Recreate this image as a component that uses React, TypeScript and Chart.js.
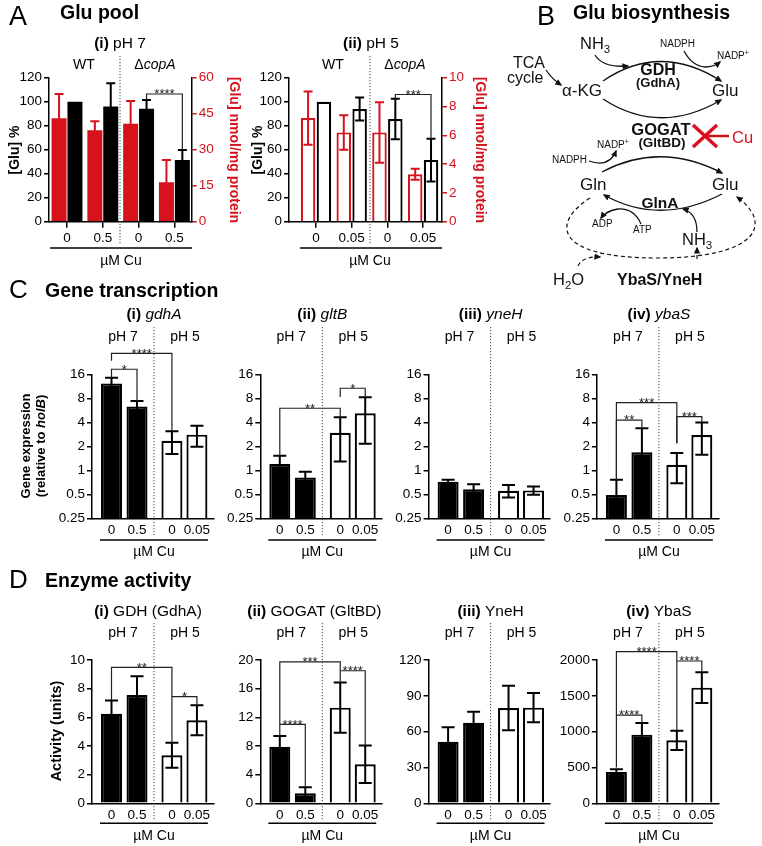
import React, { useEffect, useRef } from 'react';
import { Chart, registerables } from 'chart.js';

Chart.register(...registerables);

const FONT = '"Liberation Sans", Arial, Helvetica, sans-serif';
const RED = '#d6121c';
const W = 762;
const H = 846;
const AXIS_W = 40; // room kept for y tick labels
const AXIS_H = 28; // room kept for x tick labels
Chart.defaults.font.family = FONT;
Chart.defaults.color = '#000';

// ================= DATA =================
// Panel A – Glu pool
const cuDosesPh7 = ['0', '0.5', '0', '0.5'];
const cuDosesPh5 = ['0', '0.05', '0', '0.05'];
const pctTicks = [0, 20, 40, 60, 80, 100, 120];
const nmolTicksPh7 = [0, 15, 30, 45, 60];
const nmolTicksPh5 = [0, 2, 4, 6, 8, 10];

const gluPctPh7 = [100, 96.1, 94.2, 51.4];
const gluPctErrPh7 = [0, 19.2, 7.2, 8.3];
const gluNmolPh7 = [43.1, 38.1, 40.8, 16.4];
const gluNmolErrPh7 = [10.1, 3.8, 9.5, 9.3];

const gluPctPh5 = [100, 93.9, 85.6, 51.4];
const gluPctErrPh5 = [0, 9.5, 16.9, 17.8];
const gluNmolPh5 = [7.2, 6.2, 6.2, 3.3];
const gluNmolErrPh5 = [1.85, 1.2, 2.1, 0.38];

const gluPh7Sig = [{ from: 2, to: 3, label: '****', y: 106.4, yFrom: 101.4, yTo: 59.7 }];
const gluPh5Sig = [{ from: 2, to: 3, label: '***', y: 106, yFrom: 102, yTo: 69.2 }];

// Panel C – gene transcription (relative to holB)
const cdCuLabels = ['0', '0.5', '0', '0.05'];
const exprTicks = [0.25, 0.5, 1, 2, 4, 8, 16];
const gdhAExpr = [12.3, 6.3, 2.35, 2.8];
const gdhAExprErr = [2.2, 1.1, 0.75, 0.82];
const gltBExpr = [1.2, 0.81, 2.96, 5.2];
const gltBExprErr = [0.32, 0.15, 1.67, 3.05];
const yneHExpr = [0.72, 0.58, 0.555, 0.56];
const yneHExprErr = [0.04, 0.09, 0.1, 0.065];
const ybaSExpr = [0.49, 1.68, 1.17, 2.77];
const ybaSExprErr = [0.27, 1.68, 0.48, 1.2];

const gdhAExprSig = [
  { from: 0, to: 1, label: '*', y: 18.5, yFrom: 14.5, yTo: 7.4 },
  { from: 0, to: 2, label: '****', y: 29.3, yFrom: 23.7, yTo: 3.1 },
];
const gltBExprSig = [
  { from: 0, to: 2, label: '**', y: 6.0, yFrom: 1.52, yTo: 4.62 },
  { from: 2, to: 3, label: '*', y: 10.7, yFrom: 8.3, yTo: 8.25 },
];
const ybaSExprSig = [
  { from: 0, to: 2, label: '***', y: 7.05, yFrom: 0.76, yTo: 2.18 },
  { from: 0, to: 1, label: '**', y: 4.27, yFrom: 0.76, yTo: 3.36 },
  { from: 2, to: 3, label: '***', y: 4.7, yFrom: 2.18, yTo: 3.97 },
];

// Panel D – enzyme activity
const gdhTicks = [0, 2, 4, 6, 8, 10];
const gogatTicks = [0, 4, 8, 12, 16, 20];
const yneHTicks = [0, 30, 60, 90, 120];
const ybaSTicks = [0, 500, 1000, 1500, 2000];
const gdhActivity = [6.25, 7.55, 3.35, 5.8];
const gdhActivityErr = [0.93, 1.32, 0.87, 1.05];
const gogatActivity = [7.9, 1.4, 13.35, 5.45];
const gogatActivityErr = [1.5, 0.83, 3.5, 2.6];
const yneHActivity = [51.6, 67.5, 79.8, 80.1];
const yneHActivityErr = [12, 9.2, 18.7, 12.2];
const ybaSActivity = [437, 958, 879, 1614];
const ybaSActivityErr = [37, 163, 135, 214];

const gdhActSig = [
  { from: 0, to: 2, label: '**', y: 9.49, yFrom: 7.21, yTo: 7.44 },
  { from: 2, to: 3, label: '*', y: 7.44, yFrom: 4.22, yTo: 6.85 },
];
const gogatActSig = [
  { from: 0, to: 2, label: '***', y: 19.75, yFrom: 11.02, yTo: 18.5 },
  { from: 0, to: 1, label: '****', y: 11.02, yFrom: 9.4, yTo: 2.23 },
  { from: 2, to: 3, label: '****', y: 18.5, yFrom: 16.85, yTo: 8.05 },
];
const ybaSActSig = [
  { from: 0, to: 2, label: '****', y: 2116, yFrom: 1232, yTo: 1986 },
  { from: 0, to: 1, label: '****', y: 1232, yFrom: 500, yTo: 1121 },
  { from: 2, to: 3, label: '****', y: 1986, yFrom: 1014, yTo: 1828 },
];

// ================= LAYOUT =================
const PAIR_SLOTS = [0, 1, 2, 3];
const A_OFF = 0.222;
const CD_SLOTS = [0, 1, 2.37, 3.35];
const CD_UNIT = 25.5;
const CD_COLX = [111.5, 279.8, 448.1, 616.4];
const CD_XMIN = -0.765;
const CD_XMAX = 4.0;
const CD_DIV = 1.667;
const ROW_C = { top: 374.3, bottom: 518.3, title: 315, ph: 337, divTop: 327, divBot: 537, line: 540, unit: 552 };
const ROW_D = { top: 660, bottom: 803.3, title: 611.7, ph: 633.3, divTop: 623, divBot: 821, line: 823.3, unit: 836 };

type Part = { t: string; s?: string; size?: number };
interface Bracket { from: number; to: number; label: string; y: number; yFrom: number; yTo: number }
interface SeriesSpec {
  xs: number[]; values: number[]; errors: number[]; fill: string | string[]; stroke: string;
  borderWidth: number; thickness: number; axis: string; errColor: string;
}
interface AxisSpec { type: 'linear' | 'logarithmic'; min: number; max: number; ticks: number[]; color: string }
interface Spec {
  plot: { left: number; right: number; top: number; bottom: number };
  xMin: number; xMax: number; xTicks: number[]; xLabels: string[]; xTickMarks: boolean; xLabelPad: number;
  y: AxisSpec; y2?: AxisSpec;
  series: SeriesSpec[];
  brackets: Bracket[]; bracketXs: number[]; bracketAxis: string; capW: number;
  decorate: (ctx: CanvasRenderingContext2D) => void;
}

function drawParts(
  ctx: CanvasRenderingContext2D, parts: Part[], x: number, y: number, size: number,
  align: 'left' | 'center' | 'right' = 'center', color = '#000', rot = 0,
) {
  ctx.save();
  ctx.translate(x, y);
  if (rot) ctx.rotate(rot);
  ctx.fillStyle = color;
  ctx.textBaseline = 'middle';
  ctx.textAlign = 'left';
  const fonts = parts.map((p) => `${p.s || 'normal'} ${p.size ?? size}px ${FONT}`);
  let total = 0;
  const widths = parts.map((p, i) => {
    ctx.font = fonts[i];
    const w = ctx.measureText(p.t).width;
    total += w;
    return w;
  });
  let cx = align === 'center' ? -total / 2 : align === 'right' ? -total : 0;
  parts.forEach((p, i) => {
    ctx.font = fonts[i];
    ctx.fillText(p.t, cx, 0);
    cx += widths[i];
  });
  ctx.restore();
}

function dottedV(ctx: CanvasRenderingContext2D, x: number, y1: number, y2: number) {
  ctx.save();
  ctx.strokeStyle = '#444';
  ctx.lineWidth = 1;
  ctx.setLineDash([1.2, 1.8]);
  ctx.beginPath();
  ctx.moveTo(x, y1);
  ctx.lineTo(x, y2);
  ctx.stroke();
  ctx.restore();
}

function hline(ctx: CanvasRenderingContext2D, x1: number, x2: number, y: number) {
  ctx.save();
  ctx.strokeStyle = '#000';
  ctx.lineWidth = 1.5;
  ctx.beginPath();
  ctx.moveTo(x1, y);
  ctx.lineTo(x2, y);
  ctx.stroke();
  ctx.restore();
}

function drawErrors(chart: any, spec: Spec) {
  const ctx: CanvasRenderingContext2D = chart.ctx;
  spec.series.forEach((s, di) => {
    const meta = chart.getDatasetMeta(di);
    const ys = chart.scales[s.axis];
    meta.data.forEach((el: any, i: number) => {
      const e = s.errors[i];
      if (!e) return;
      const v = s.values[i];
      const top = ys.getPixelForValue(v + e);
      const lo = v - e;
      const hasLo = lo > ys.min;
      const bot = ys.getPixelForValue(hasLo ? lo : ys.min);
      const hw = spec.capW / 2;
      ctx.save();
      ctx.strokeStyle = s.errColor;
      ctx.lineWidth = 2;
      ctx.beginPath();
      ctx.moveTo(el.x, top);
      ctx.lineTo(el.x, bot);
      ctx.moveTo(el.x - hw, top);
      ctx.lineTo(el.x + hw, top);
      if (hasLo) {
        ctx.moveTo(el.x - hw, bot);
        ctx.lineTo(el.x + hw, bot);
      }
      ctx.stroke();
      ctx.restore();
    });
  });
}

function drawBrackets(chart: any, spec: Spec) {
  const ctx: CanvasRenderingContext2D = chart.ctx;
  const xs = chart.scales.x;
  const ys = chart.scales[spec.bracketAxis];
  spec.brackets.forEach((b) => {
    const xa = xs.getPixelForValue(spec.bracketXs[b.from]);
    const xb = xs.getPixelForValue(spec.bracketXs[b.to]);
    const y = ys.getPixelForValue(b.y);
    const ya = ys.getPixelForValue(b.yFrom);
    const yb = ys.getPixelForValue(b.yTo);
    ctx.save();
    ctx.strokeStyle = '#222';
    ctx.lineWidth = 1.2;
    ctx.beginPath();
    ctx.moveTo(xa, ya);
    ctx.lineTo(xa, y);
    ctx.lineTo(xb, y);
    ctx.lineTo(xb, yb);
    ctx.stroke();
    ctx.fillStyle = '#222';
    ctx.font = `normal 13px ${FONT}`;
    ctx.textAlign = 'center';
    ctx.textBaseline = 'alphabetic';
    ctx.fillText(b.label, (xa + xb) / 2, y + 4.4);
    ctx.restore();
  });
}

function yScale(a: AxisSpec, position: 'left' | 'right') {
  return {
    type: a.type,
    position,
    min: a.min,
    max: a.max,
    bounds: 'data',
    afterFit: (s: any) => { s.width = AXIS_W; },
    afterBuildTicks: (s: any) => { s.ticks = a.ticks.map((v) => ({ value: v })); },
    ticks: {
      color: a.color, font: { size: 13.5, family: FONT }, padding: 2, autoSkip: false,
      callback: (v: any) => String(v),
    },
    grid: { display: true, drawOnChartArea: false, drawTicks: true, tickLength: 5, color: a.color, lineWidth: 1.5 },
    border: { display: true, color: '#000', width: 1.5 },
  };
}

function buildConfig(spec: Spec): any {
  const scales: any = {
    x: {
      type: 'linear', min: spec.xMin, max: spec.xMax, offset: false, bounds: 'data', z: 1,
      afterFit: (s: any) => { s.height = AXIS_H; },
      afterBuildTicks: (s: any) => { s.ticks = spec.xTicks.map((v) => ({ value: v })); },
      ticks: {
        autoSkip: false, maxRotation: 0, minRotation: 0, padding: spec.xLabelPad, color: '#000',
        font: { size: 13.5, family: FONT },
        callback: (_v: any, i: number) => spec.xLabels[i],
      },
      grid: {
        display: spec.xTickMarks, drawOnChartArea: false, drawTicks: spec.xTickMarks, tickLength: 6,
        color: '#000', lineWidth: 1.5, offset: false,
      },
      border: { display: true, color: '#000', width: 1.5 },
    },
    y: yScale(spec.y, 'left'),
  };
  if (spec.y2) scales.y2 = yScale(spec.y2, 'right');
  return {
    type: 'bar',
    data: {
      datasets: spec.series.map((s) => ({
        type: 'bar',
        data: s.values.map((v, i) => ({ x: s.xs[i], y: v })),
        backgroundColor: s.fill,
        borderColor: s.stroke,
        borderWidth: s.borderWidth,
        borderSkipped: 'start',
        barThickness: s.thickness,
        maxBarThickness: s.thickness,
        grouped: false,
        inflateAmount: 0,
        yAxisID: s.axis,
        xAxisID: 'x',
      })),
    },
    options: {
      responsive: false,
      maintainAspectRatio: false,
      animation: false,
      events: [],
      layout: {
        padding: {
          left: spec.plot.left - AXIS_W,
          top: spec.plot.top,
          right: W - spec.plot.right - (spec.y2 ? AXIS_W : 0),
          bottom: H - spec.plot.bottom - AXIS_H,
        },
      },
      plugins: { legend: { display: false }, tooltip: { enabled: false } },
      scales,
    },
    plugins: [
      {
        id: 'deco',
        afterDatasetsDraw(chart: any) { drawErrors(chart, spec); },
        afterDraw(chart: any) {
          const ctx = chart.ctx;
          ctx.save();
          drawBrackets(chart, spec);
          spec.decorate(ctx);
          ctx.restore();
        },
      },
    ],
  };
}

// ---------- Panel A specs ----------
function aSpec(opts: {
  left: number; right: number; pair0: number; unit: number; pct: number[]; pctErr: number[];
  nmol: number[]; nmolErr: number[]; nmolTicks: number[]; nmolMax: number; labels: string[];
  sig: Bracket[]; hollow: boolean; thickness: number; decorate: (ctx: CanvasRenderingContext2D) => void;
}): Spec {
  const xMin = (opts.left - opts.pair0) / opts.unit;
  const xMax = (opts.right - opts.pair0) / opts.unit;
  return {
    plot: { left: opts.left, right: opts.right, top: 77.7, bottom: 221.7 },
    xMin, xMax, xTicks: PAIR_SLOTS, xLabels: opts.labels, xTickMarks: true, xLabelPad: 2,
    y: { type: 'linear', min: 0, max: 120, ticks: pctTicks, color: '#000' },
    y2: { type: 'linear', min: 0, max: opts.nmolMax, ticks: opts.nmolTicks, color: RED },
    series: [
      {
        xs: PAIR_SLOTS.map((s) => s - A_OFF), values: opts.nmol, errors: opts.nmolErr,
        fill: opts.hollow ? '#fff' : RED, stroke: RED, borderWidth: opts.hollow ? 2.2 : 0,
        thickness: opts.thickness, axis: 'y2', errColor: RED,
      },
      {
        xs: PAIR_SLOTS.map((s) => s + A_OFF), values: opts.pct, errors: opts.pctErr,
        fill: opts.hollow ? '#fff' : '#000', stroke: '#000', borderWidth: opts.hollow ? 2.2 : 0,
        thickness: opts.thickness, axis: 'y', errColor: '#000',
      },
    ],
    brackets: opts.sig, bracketXs: PAIR_SLOTS.map((s) => s + A_OFF), bracketAxis: 'y', capW: 9,
    decorate: opts.decorate,
  };
}

const A1 = aSpec({
  left: 49, right: 191.7, pair0: 67, unit: 35.8, pct: gluPctPh7, pctErr: gluPctErrPh7,
  nmol: gluNmolPh7, nmolErr: gluNmolErrPh7, nmolTicks: nmolTicksPh7, nmolMax: 60, labels: cuDosesPh7,
  sig: gluPh7Sig, hollow: false, thickness: 15,
  decorate: (ctx) => {
    drawParts(ctx, [{ t: '(i)', s: 'bold' }, { t: ' pH 7' }], 120, 44, 15.5);
    drawParts(ctx, [{ t: 'WT' }], 84, 65, 14);
    drawParts(ctx, [{ t: 'Δ' }, { t: 'copA', s: 'italic' }], 155, 65, 14);
    dottedV(ctx, 120, 56, 245);
    hline(ctx, 50, 192, 248);
    drawParts(ctx, [{ t: 'µM Cu' }], 121, 261, 14);
    drawParts(ctx, [{ t: '[Glu] %', s: 'bold' }], 15, 150, 14, 'center', '#000', -Math.PI / 2);
    drawParts(ctx, [{ t: '[Glu] nmol/mg protein', s: 'bold' }], 234, 150, 14, 'center', RED, Math.PI / 2);
  },
});

const A2 = aSpec({
  left: 289, right: 442, pair0: 316, unit: 35.7, pct: gluPctPh5, pctErr: gluPctErrPh5,
  nmol: gluNmolPh5, nmolErr: gluNmolErrPh5, nmolTicks: nmolTicksPh5, nmolMax: 10, labels: cuDosesPh5,
  sig: gluPh5Sig, hollow: true, thickness: 14.5,
  decorate: (ctx) => {
    drawParts(ctx, [{ t: '(ii)', s: 'bold' }, { t: ' pH 5' }], 371, 44, 15.5);
    drawParts(ctx, [{ t: 'WT' }], 333, 65, 14);
    drawParts(ctx, [{ t: 'Δ' }, { t: 'copA', s: 'italic' }], 405, 65, 14);
    dottedV(ctx, 370, 56, 245);
    hline(ctx, 300, 442, 248);
    drawParts(ctx, [{ t: 'µM Cu' }], 370, 261, 14);
    drawParts(ctx, [{ t: '[Glu] %', s: 'bold' }], 258, 150, 14, 'center', '#000', -Math.PI / 2);
    drawParts(ctx, [{ t: '[Glu] nmol/mg protein', s: 'bold' }], 480, 150, 14, 'center', RED, Math.PI / 2);
  },
});

// ---------- Panels C / D specs ----------
function cdSpec(
  col: number, row: typeof ROW_C, title: Part[], titleDx: number, values: number[], errors: number[],
  yType: 'linear' | 'logarithmic', yMin: number, yMax: number, yTicks: number[], sig: Bracket[],
  yTitle?: (ctx: CanvasRenderingContext2D) => void,
): Spec {
  const x0 = CD_COLX[col];
  const px = (s: number) => x0 + s * CD_UNIT;
  return {
    plot: { left: px(CD_XMIN), right: px(CD_XMAX), top: row.top, bottom: row.bottom },
    xMin: CD_XMIN, xMax: CD_XMAX, xTicks: CD_SLOTS, xLabels: cdCuLabels, xTickMarks: false, xLabelPad: 3.5,
    y: { type: yType, min: yMin, max: yMax, ticks: yTicks, color: '#000' },
    series: [
      {
        xs: CD_SLOTS, values, errors, fill: ['#000', '#000', '#fff', '#fff'], stroke: '#000',
        borderWidth: 2.2, thickness: 21, axis: 'y', errColor: '#000',
      },
    ],
    brackets: sig, bracketXs: CD_SLOTS, bracketAxis: 'y', capW: 13,
    decorate: (ctx) => {
      const dv = px(CD_DIV);
      drawParts(ctx, title, dv + titleDx, row.title, 15.5);
      drawParts(ctx, [{ t: 'pH 7' }], dv - 31, row.ph, 14);
      drawParts(ctx, [{ t: 'pH 5' }], dv + 31, row.ph, 14);
      dottedV(ctx, dv, row.divTop, row.divBot);
      hline(ctx, px(0) - 11.5, px(CD_SLOTS[3]) + 11, row.line);
      drawParts(ctx, [{ t: 'µM Cu' }], dv, row.unit, 14);
      if (yTitle) yTitle(ctx);
    },
  };
}

const SPECS: Spec[] = [
  A1,
  A2,
  cdSpec(0, ROW_C, [{ t: '(i) ', s: 'bold' }, { t: 'gdhA', s: 'italic' }], 0, gdhAExpr, gdhAExprErr,
    'logarithmic', 0.25, 16, exprTicks, gdhAExprSig, (ctx) => {
      drawParts(ctx, [{ t: 'Gene expression', s: 'bold' }], 26, 446, 13, 'center', '#000', -Math.PI / 2);
      drawParts(ctx, [{ t: '(relative to ', s: 'bold' }, { t: 'holB', s: 'italic bold' }, { t: ')', s: 'bold' }],
        41, 446, 13, 'center', '#000', -Math.PI / 2);
    }),
  cdSpec(1, ROW_C, [{ t: '(ii) ', s: 'bold' }, { t: 'gltB', s: 'italic' }], 0, gltBExpr, gltBExprErr,
    'logarithmic', 0.25, 16, exprTicks, gltBExprSig),
  cdSpec(2, ROW_C, [{ t: '(iii) ', s: 'bold' }, { t: 'yneH', s: 'italic' }], 0, yneHExpr, yneHExprErr,
    'logarithmic', 0.25, 16, exprTicks, []),
  cdSpec(3, ROW_C, [{ t: '(iv) ', s: 'bold' }, { t: 'ybaS', s: 'italic' }], 0, ybaSExpr, ybaSExprErr,
    'logarithmic', 0.25, 16, exprTicks, ybaSExprSig),
  cdSpec(0, ROW_D, [{ t: '(i) ', s: 'bold' }, { t: 'GDH (GdhA)' }], -6, gdhActivity, gdhActivityErr,
    'linear', 0, 10, gdhTicks, gdhActSig, (ctx) => {
      drawParts(ctx, [{ t: 'Activity (units)', s: 'bold' }], 57, 731, 14.5, 'center', '#000', -Math.PI / 2);
    }),
  cdSpec(1, ROW_D, [{ t: '(ii) ', s: 'bold' }, { t: 'GOGAT (GltBD)' }], -8, gogatActivity, gogatActivityErr,
    'linear', 0, 20, gogatTicks, gogatActSig),
  cdSpec(2, ROW_D, [{ t: '(iii) ', s: 'bold' }, { t: 'YneH' }], 0, yneHActivity, yneHActivityErr,
    'linear', 0, 120, yneHTicks, []),
  cdSpec(3, ROW_D, [{ t: '(iv) ', s: 'bold' }, { t: 'YbaS' }], 0, ybaSActivity, ybaSActivityErr,
    'linear', 0, 2000, ybaSTicks, ybaSActSig),
];

function ChartCanvas({ spec }: { spec: Spec }) {
  const ref = useRef<HTMLCanvasElement>(null);
  useEffect(() => {
    const chart = new Chart(ref.current as HTMLCanvasElement, buildConfig(spec));
    return () => chart.destroy();
  }, [spec]);
  return (
    <canvas
      ref={ref}
      width={W}
      height={H}
      style={{ position: 'absolute', left: 0, top: 0, width: W, height: H }}
    />
  );
}

function Overlay() {
  const sub = (s: string) => <tspan dy={4} fontSize={11.5}>{s}</tspan>;
  return (
    <svg
      width={W}
      height={H}
      style={{ position: 'absolute', left: 0, top: 0, pointerEvents: 'none' }}
      fontFamily={FONT}
    >
      <defs>
        <marker id="ah" viewBox="0 0 10 10" refX="8" refY="5" markerWidth="7" markerHeight="7"
          markerUnits="userSpaceOnUse" orient="auto">
          <path d="M0,0.5 L10,5 L0,9.5 z" fill="#111" />
        </marker>
      </defs>
      {/* section headings */}
      <text x={9} y={25} fontSize={27}>A</text>
      <text x={60} y={19} fontSize={19.5} fontWeight="bold">Glu pool</text>
      <text x={537} y={25} fontSize={27}>B</text>
      <text x={573} y={19} fontSize={19.5} fontWeight="bold">Glu biosynthesis</text>
      <text x={9} y={298} fontSize={26}>C</text>
      <text x={45} y={297} fontSize={19.5} fontWeight="bold">Gene transcription</text>
      <text x={9} y={588} fontSize={26}>D</text>
      <text x={45} y={587} fontSize={19.5} fontWeight="bold">Enzyme activity</text>

      {/* panel B pathway */}
      <g fill="none" stroke="#111" strokeWidth={1.3}>
        <path d="M603 81 Q660 42 721 81" markerEnd="url(#ah)" />
        <path d="M603 99 Q660 136 721 100" markerEnd="url(#ah)" />
        <path d="M595 55 Q603 68 628 66" markerEnd="url(#ah)" />
        <path d="M684 51 Q692 66 705 67 Q714 67 720 62" markerEnd="url(#ah)" />
        <path d="M546 70 Q552 79 561 85" markerEnd="url(#ah)" />
        <path d="M602 172 Q660 141 722 173" markerEnd="url(#ah)" />
        <path d="M589 161 Q609 168 616 151" markerEnd="url(#ah)" />
        <path d="M722 194 Q660 226 604 195" markerEnd="url(#ah)" />
        <path d="M641 224 Q634 208 618 209 Q606 211 601 218" markerEnd="url(#ah)" />
        <path d="M697 232 Q697 213 683 209" markerEnd="url(#ah)" />
      </g>
      <g fill="none" stroke="#111" strokeWidth={1.2} strokeDasharray="4 3">
        <path d="M590 198 C552 222 552 258 657 258 C762 258 772 222 737 197" markerEnd="url(#ah)" />
        <path d="M578 266 Q583 256 600 257" markerEnd="url(#ah)" />
        <path d="M697 259 L697 248" markerEnd="url(#ah)" />
      </g>
      <g stroke={RED} strokeWidth={3.5}>
        <line x1={693} y1={125} x2={717} y2={147} />
        <line x1={693} y1={147} x2={717} y2={125} />
        <line x1={705} y1={136} x2={729} y2={136} strokeWidth={2.5} />
      </g>
      <text x={732} y={143} fontSize={16.5} fill={RED}>Cu</text>
      <g fill="#111">
        <text x={580} y={49} fontSize={16.5}>NH{sub('3')}</text>
        <text x={660} y={47} fontSize={10}>NADPH</text>
        <text x={717} y={59} fontSize={10}>NADP<tspan dy={-4} fontSize={7}>+</tspan></text>
        <text x={513} y={68} fontSize={16}>TCA</text>
        <text x={507} y={83} fontSize={16}>cycle</text>
        <text x={562} y={96} fontSize={17}>α-KG</text>
        <text x={658} y={75} fontSize={16} fontWeight="bold" textAnchor="middle">GDH</text>
        <text x={658} y={87} fontSize={13} fontWeight="bold" textAnchor="middle">(GdhA)</text>
        <text x={712} y={96} fontSize={17}>Glu</text>
        <text x={661} y={135} fontSize={16.5} fontWeight="bold" textAnchor="middle">GOGAT</text>
        <text x={662} y={147} fontSize={13.5} fontWeight="bold" textAnchor="middle">(GltBD)</text>
        <text x={597} y={148} fontSize={10}>NADP<tspan dy={-4} fontSize={7}>+</tspan></text>
        <text x={552} y={163} fontSize={10}>NADPH</text>
        <text x={580} y={190} fontSize={17}>Gln</text>
        <text x={712} y={190} fontSize={17}>Glu</text>
        <text x={660} y={208} fontSize={15.5} fontWeight="bold" textAnchor="middle">GlnA</text>
        <text x={592} y={227} fontSize={10}>ADP</text>
        <text x={633} y={233} fontSize={10}>ATP</text>
        <text x={682} y={245} fontSize={16.5}>NH{sub('3')}</text>
        <text x={553} y={285} fontSize={16.5}>H<tspan dy={4} fontSize={11.5}>2</tspan><tspan dy={-4}>O</tspan></text>
        <text x={617} y={285} fontSize={16} fontWeight="bold">YbaS/YneH</text>
      </g>
    </svg>
  );
}

export default function App() {
  return (
    <div
      style={{
        position: 'fixed', left: 0, top: 0, width: W, height: H, background: '#fff', overflow: 'hidden',
      }}
    >
      {SPECS.map((s, i) => (
        <ChartCanvas key={i} spec={s} />
      ))}
      <Overlay />
    </div>
  );
}
